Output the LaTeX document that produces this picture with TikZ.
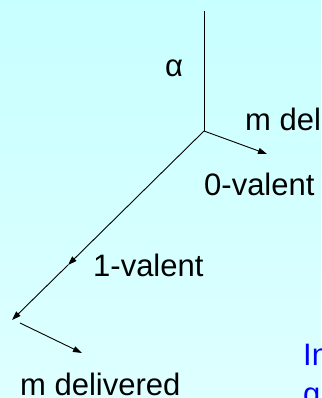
\documentclass[tikz,border=0pt]{standalone}
\usepackage{fontspec}
\setmainfont{Liberation Sans}
\usetikzlibrary{arrows.meta}
\definecolor{bgtop}{RGB}{200,255,255}
\definecolor{bgbot}{RGB}{222,255,255}
\definecolor{noteblue}{RGB}{0,0,255}
\tikzset{
  edge/.style={line width=0.9pt, black},
  arr/.style={edge, -{Triangle[length=9pt,width=6pt]}},
  lbl/.style={anchor=base west, inner sep=0pt, font=\fontsize{31}{37}\selectfont}
}
\begin{document}
\begin{tikzpicture}[x=1pt,y=-1pt]
  \useasboundingbox (0,0) rectangle (321,398);
  \clip (0,0) rectangle (321,398);
  \shade[top color=bgtop, bottom color=bgbot] (0,0) rectangle (321,398);

  % execution tree points
  \coordinate (root) at (204,11);
  \coordinate (fork) at (204,131);
  \coordinate (right) at (267,154);
  \coordinate (mid) at (68,265);
  \coordinate (low) at (12,320);
  \coordinate (lowstart) at (20,323);
  \coordinate (lowend) at (82,353);

  \draw[edge] (root) -- (fork);
  \draw[arr] (fork) -- (right);
  \draw[arr] (fork) -- (mid);
  \draw[arr] (mid) -- (low);
  \draw[arr] (lowstart) -- (lowend);

  % labels
  \node[lbl] (alpha) at (165,77) {α};
  \node[lbl] (mdel) at (245,131) {m del};
  \node[lbl] (zero) at (204,195) {0-valent};
  \node[lbl] (one) at (93,276) {1-valent};
  \node[lbl] (mdeliv) at (20,395) {m delivered};
  \node[lbl, text=noteblue] (note1) at (303,365) {In};
  \node[lbl, text=noteblue] (note2) at (303,404) {g};
\end{tikzpicture}
\end{document}
